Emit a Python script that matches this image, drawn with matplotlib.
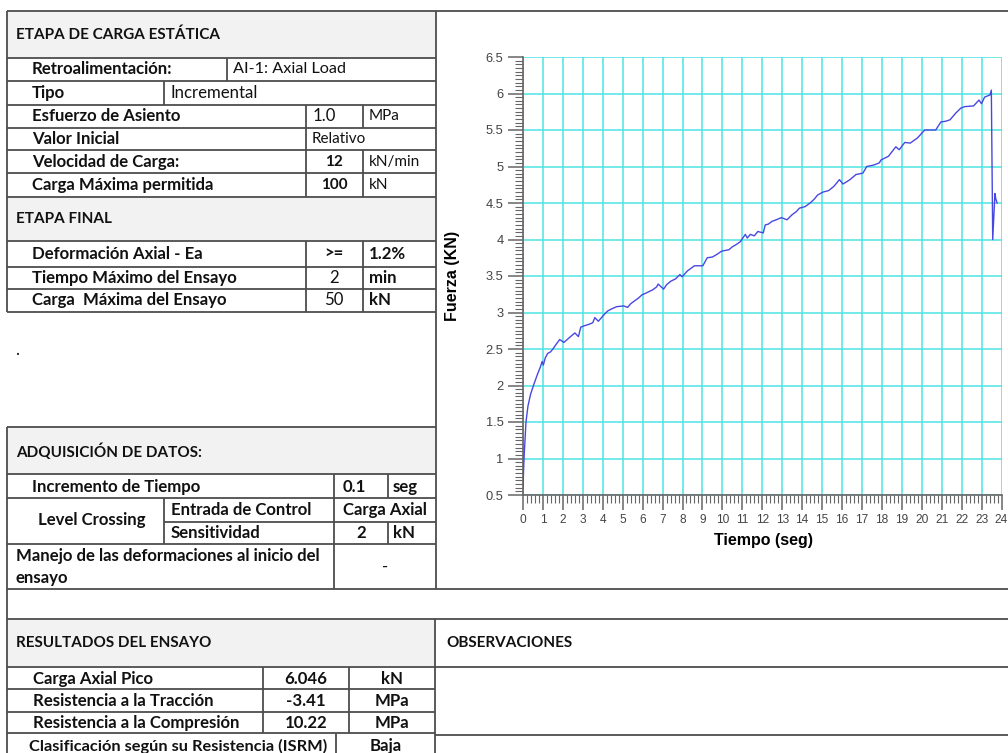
import matplotlib.pyplot as plt
from matplotlib.ticker import MultipleLocator, FuncFormatter
from matplotlib.patches import Rectangle

# curve: time (seg) vs force (kN)
tiempo = [0, 0.03, 0.06, 0.1, 0.15, 0.25, 0.38, 0.55, 0.72, 0.88,
          0.96, 1.02, 1.12, 1.24, 1.38, 1.5, 1.65, 1.84, 2.05, 2.3,
          2.6, 2.78, 2.9, 3.1, 3.33, 3.5, 3.6, 3.78, 4.0, 4.24,
          4.45, 4.7, 5.05, 5.25, 5.4, 5.6, 5.8, 5.96, 6.2, 6.5,
          6.7, 6.78, 7.05, 7.2, 7.42, 7.65, 7.87, 7.98, 8.25, 8.6,
          9.02, 9.24, 9.5, 9.75, 9.96, 10.33, 10.5, 10.69, 10.9, 11.15,
          11.25, 11.4, 11.6, 11.78, 12.05, 12.15, 12.3, 12.5, 12.7, 12.96,
          13.24, 13.5, 13.7, 13.87, 14.15, 14.4, 14.6, 14.78, 15.05, 15.33,
          15.6, 15.87, 16.05, 16.4, 16.7, 17.05, 17.24, 17.6, 17.87, 17.96,
          18.33, 18.7, 18.87, 19.15, 19.42, 19.78, 20.15, 20.7, 20.96, 21.2,
          21.42, 21.7, 21.96, 22.15, 22.6, 22.87, 23.0, 23.15, 23.42, 23.49,
          23.56, 23.67, 23.72, 23.78]
fuerza = [0.6, 0.85, 1.05, 1.25, 1.5, 1.72, 1.88, 2.02, 2.15, 2.26,
          2.33, 2.28, 2.38, 2.44, 2.46, 2.5, 2.56, 2.63, 2.59, 2.65,
          2.72, 2.67, 2.8, 2.82, 2.84, 2.86, 2.93, 2.88, 2.95, 3.02,
          3.05, 3.08, 3.09, 3.07, 3.12, 3.16, 3.2, 3.24, 3.27, 3.31,
          3.35, 3.39, 3.32, 3.38, 3.43, 3.46, 3.52, 3.49, 3.57, 3.64,
          3.64, 3.75, 3.76, 3.8, 3.84, 3.86, 3.9, 3.93, 3.97, 4.07,
          4.02, 4.07, 4.05, 4.11, 4.09, 4.2, 4.21, 4.25, 4.27, 4.30,
          4.27, 4.34, 4.38, 4.43, 4.45, 4.50, 4.55, 4.61, 4.65, 4.67,
          4.73, 4.82, 4.76, 4.82, 4.89, 4.91, 5.0, 5.02, 5.05, 5.09,
          5.14, 5.27, 5.23, 5.33, 5.32, 5.39, 5.50, 5.50, 5.61, 5.62,
          5.64, 5.73, 5.80, 5.82, 5.83, 5.91, 5.86, 5.95, 5.98, 6.046,
          4.0, 4.63, 4.55, 4.50]

# table contents
etapa_carga = [("Retroalimentación:", "AI-1: Axial Load", ""),
               ("Tipo", "Incremental", ""),
               ("Esfuerzo de Asiento", "1.0", "MPa"),
               ("Valor Inicial", "Relativo", ""),
               ("Velocidad de Carga:", "12", "kN/min"),
               ("Carga Máxima permitida", "100", "kN")]
etapa_final = [("Deformación Axial - Ea", ">=", "1.2%"),
               ("Tiempo Máximo del Ensayo", "2", "min"),
               ("Carga  Máxima del Ensayo", "50", "kN")]
resultados = [("Carga Axial Pico", "6.046", "kN"),
              ("Resistencia a la Tracción", "-3.41", "MPa"),
              ("Resistencia a la Compresión", "10.22", "MPa")]
clasificacion = ("Clasificación según su Resistencia (ISRM)", "Baja")

W, H = 1008, 753
fig = plt.figure(figsize=(W / 100, H / 100), dpi=100)

# full-figure axes in pixel units for the report table
tab = fig.add_axes([0, 0, 1, 1])
tab.set_xlim(0, W)
tab.set_ylim(H, 0)
tab.axis('off')

LC = '#4d4d4d'
LW = 1.3
FONT = 'Lato'
SZ = 12.1     # row labels
HSZ = 11      # section headers
SSZ = 11      # small values / units


def hl(y, x0, x1):
    tab.plot([x0, x1], [y, y], color=LC, lw=LW, solid_capstyle='butt')


def vl(x, y0, y1):
    tab.plot([x, x], [y0, y1], color=LC, lw=LW, solid_capstyle='butt')


def txt(x, y, s, bold=True, ha='left', size=SZ):
    tab.text(x, y, s, ha=ha, va='center', fontsize=size, family=FONT,
             fontweight='bold' if bold else 'normal', color='#111111')


def gray(y0, y1, x0=7, x1=436):
    tab.add_patch(Rectangle((x0, y0), x1 - x0, y1 - y0, color='#f2f2f2', lw=0))


# header fills
gray(11, 58)
gray(197, 241)
gray(427, 474)
gray(619, 667, x1=435)

# etapa de carga estatica
hl(11, 7, W)
vl(7, 11, 312)
vl(436, 11, 589)
for y in [58, 81, 105, 128, 150, 173, 197, 241, 267, 289, 312]:
    hl(y, 7, 436)
vl(227, 58, 81)
vl(164, 81, 105)
vl(306, 105, 197)
vl(363, 105, 128)
vl(363, 150, 197)
vl(306, 241, 312)
vl(363, 241, 312)

txt(16, 35, "ETAPA DE CARGA ESTÁTICA", size=HSZ)
rows_y = [69, 93, 116, 139, 162, 185]
for (lab, val, uni), y in zip(etapa_carga, rows_y):
    txt(32, y, lab)
    if lab.startswith("Retro"):
        txt(233, y, val, bold=False, size=11.7)
    elif lab == "Tipo":
        txt(171, y, val, bold=False)
    elif val == "Relativo":
        txt(312, y, val, bold=False, size=SSZ)
    elif val in ("12", "100"):
        txt(334, y, val, ha='center', size=SSZ)
        txt(369, y, uni, bold=False, size=SSZ)
    else:
        txt(313, y, val, bold=False)
        txt(369, y, uni, bold=False, size=SSZ)

txt(16, 219, "ETAPA FINAL", size=HSZ)
for (lab, val, uni), y in zip(etapa_final, [254, 278, 300]):
    txt(32, y, lab)
    txt(334, y, val, ha='center', bold=(val == ">="))
    txt(369, y, uni)

txt(15, 350, ".", bold=False)

# adquisicion de datos
vl(7, 427, H)
for y in [427, 474, 498, 544]:
    hl(y, 7, 436)
hl(522, 164, 436)
vl(334, 474, 589)
vl(388, 474, 498)
vl(388, 522, 544)
vl(164, 498, 544)
txt(16, 452, "ADQUISICIÓN DE DATOS:", size=HSZ)
txt(32, 487, "Incremento de Tiempo")
txt(343, 487, "0.1")
txt(393, 487, "seg")
txt(92, 520, "Level Crossing", ha='center')
txt(171, 510, "Entrada de Control")
txt(385, 510, "Carga Axial", ha='center')
txt(171, 533, "Sensitividad")
txt(361, 533, "2", ha='center')
txt(393, 533, "kN")
txt(16, 556, "Manejo de las deformaciones al inicio del")
txt(16, 578, "ensayo")
txt(385, 567, "-", ha='center', bold=False)

# resultados / observaciones
hl(589, 7, W)
hl(619, 7, W)
hl(667, 7, W)
hl(735, 435, W)
vl(435, 619, H)
for y in [689, 712, 733]:
    hl(y, 7, 435)
vl(263, 667, 733)
vl(349, 667, 733)
vl(336, 733, H)
txt(16, 643, "RESULTADOS DEL ENSAYO", size=HSZ)
txt(446, 643, "OBSERVACIONES", size=HSZ)
for (lab, val, uni), y in zip(resultados, [679, 701, 723]):
    txt(33, y, lab)
    txt(306, y, val, ha='center')
    txt(392, y, uni, ha='center')
txt(29, 746, clasificacion[0], size=11.8)
txt(386, 746, clasificacion[1], ha='center')

# force vs time chart
ax = fig.add_axes([523 / W, 1 - 495 / H, 478.5 / W, 438 / H])
ax.set_facecolor('none')
ax.plot(tiempo, fuerza, color='#4848e0', lw=1.0, zorder=3)
ax.set_xlim(0, 24)
ax.set_ylim(0.5, 6.5)
ax.xaxis.set_major_locator(MultipleLocator(1))
ax.xaxis.set_minor_locator(MultipleLocator(0.2))
ax.yaxis.set_major_locator(MultipleLocator(0.5))
ax.yaxis.set_minor_locator(MultipleLocator(0.05))
ax.yaxis.set_major_formatter(FuncFormatter(lambda v, p: '%g' % v))
ax.grid(which='major', color='#4de3e3', lw=1.1, zorder=1)
for s in ['top', 'right']:
    ax.spines[s].set_visible(False)
for s in ['left', 'bottom']:
    ax.spines[s].set_color('#666666')
    ax.spines[s].set_linewidth(1.2)
ax.tick_params(which='major', length=10.5, width=1.1, color='#666666',
               labelsize=8.6, labelcolor='#444444', pad=3.5)
ax.tick_params(which='minor', length=5.5, width=0.8, color='#666666')
ax.tick_params(axis='y', which='major', labelsize=9.3)
for lbl in ax.get_xticklabels() + ax.get_yticklabels():
    lbl.set_family('Liberation Sans')

tab.text(452, 276, "Fuerza (KN)", rotation=90, ha='center', va='center',
         fontsize=11.5, fontweight='bold', family='Liberation Sans')
tab.text(763, 540, "Tiempo (seg)", ha='center', va='center',
         fontsize=11.5, fontweight='bold', family='Liberation Sans')

fig.savefig('out.png', dpi=100)
